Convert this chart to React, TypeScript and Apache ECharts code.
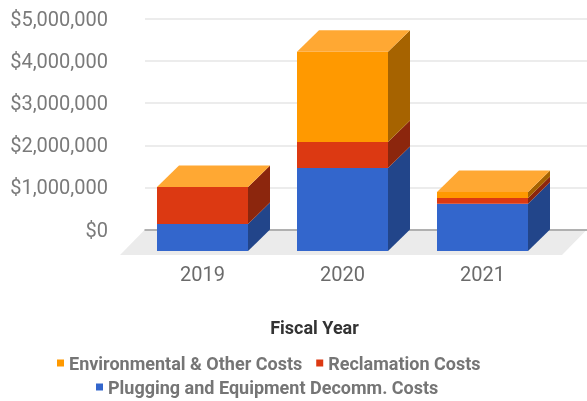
import React, { useEffect, useRef } from "react";
import * as echarts from "echarts";

const categories = ["2019", "2020", "2021"];
const seriesNames = [
  "Plugging and Equipment Decomm. Costs",
  "Reclamation Costs",
  "Environmental & Other Costs",
];
const plugging = [640000, 1970000, 1120000];
const reclamation = [880000, 620000, 140000];
const environmental = [0, 2140000, 140000];
const yTicks = [0, 1000000, 2000000, 3000000, 4000000, 5000000];

const FRONT = ["#3366cc", "#dc3912", "#ff9900"];
const SIDE = ["#22458a", "#8c260d", "#a66300"];
const TOP = ["#5c85d6", "#e56141", "#ffa833"];
const DX = 22;
const DY = 21.5;

export default function App() {
  const ref = useRef<HTMLDivElement>(null);
  useEffect(() => {
    const chart = echarts.init(ref.current!, null, { renderer: "svg" });
    const values = [plugging, reclamation, environmental];
    const stacks: number[][][] = [];
    const running = categories.map(() => 0);
    values.forEach((arr, s) => {
      stacks[s] = arr.map((v, i) => {
        const b = running[i];
        running[i] = b + v;
        return [i, b, b + v];
      });
    });

    const makeSeries = (s: number) => ({
      type: "custom",
      name: seriesNames[s],
      xAxisIndex: 1,
      yAxisIndex: 1,
      z: 5,
      itemStyle: { color: FRONT[s] },
      encode: { x: 0, y: [1, 2] },
      data: stacks[s],
      renderItem: (params: any, api: any) => {
        const x = api.value(0);
        const b = api.value(1);
        const t = api.value(2);
        const p0 = api.coord([x, b]);
        const p1 = api.coord([x, t]);
        const w = api.size([1, 0])[0] * 0.65;
        const l = p0[0] - w / 2;
        const r = p0[0] + w / 2;
        const children: any[] = [];
        if (p0[1] - p1[1] > 0.01) {
          children.push({
            type: "rect",
            shape: { x: l, y: p1[1], width: w, height: p0[1] - p1[1] },
            style: { fill: FRONT[s] },
          });
          children.push({
            type: "polygon",
            shape: {
              points: [
                [r, p0[1]],
                [r, p1[1]],
                [r + DX, p1[1] - DY],
                [r + DX, p0[1] - DY],
              ],
            },
            style: { fill: SIDE[s] },
          });
        }
        if (s === 2) {
          children.push({
            type: "polygon",
            shape: {
              points: [
                [l, p1[1]],
                [r, p1[1]],
                [r + DX, p1[1] - DY],
                [l + DX, p1[1] - DY],
              ],
            },
            style: { fill: TOP[s] },
          });
        }
        return { type: "group", children };
      },
    });

    const fmt = (v: number) => "$" + v.toLocaleString("en-US");
    const legendText = {
      fontFamily: "Roboto",
      fontSize: 18,
      fontWeight: "bold",
      color: "#757575",
    };

    chart.setOption({
      animation: false,
      grid: [
        { left: 145, right: 0, top: 19, bottom: 171.5 },
        { left: 132.5, right: 34.5, top: 40.5, bottom: 150 },
      ],
      xAxis: [
        {
          type: "category",
          gridIndex: 0,
          data: categories,
          axisLine: { show: true, lineStyle: { color: "#9e9e9e", width: 1.5 } },
          axisTick: { show: false },
          axisLabel: { show: false },
          z: 3,
        },
        {
          type: "category",
          gridIndex: 1,
          data: categories,
          axisLine: { show: false },
          axisTick: { show: false },
          axisLabel: {
            margin: 13,
            fontFamily: "Roboto",
            fontSize: 20,
            color: "#6b6b6b",
          },
        },
      ],
      yAxis: [
        {
          type: "value",
          gridIndex: 0,
          min: yTicks[0],
          max: yTicks[yTicks.length - 1],
          interval: 1000000,
          axisLine: { show: false },
          axisTick: { show: false },
          splitLine: { lineStyle: { color: "#e6e6e6", width: 1.5 } },
          axisLabel: {
            margin: 37,
            formatter: fmt,
            fontFamily: "Roboto",
            fontSize: 20,
            color: "#7a7a7a",
          },
        },
        {
          type: "value",
          gridIndex: 1,
          min: yTicks[0],
          max: yTicks[yTicks.length - 1],
          interval: 1000000,
          show: false,
          splitLine: { show: false },
        },
      ],
      legend: [
        {
          data: [seriesNames[2], seriesNames[1]],
          left: 57,
          top: 354,
          padding: 0,
          icon: "rect",
          itemWidth: 7,
          itemHeight: 7,
          itemGap: 14,
          textStyle: legendText,
        },
        {
          data: [seriesNames[0]],
          left: 96,
          top: 378,
          padding: 0,
          icon: "rect",
          itemWidth: 7,
          itemHeight: 7,
          textStyle: legendText,
        },
      ],
      graphic: [
        {
          type: "polygon",
          z: -10,
          silent: true,
          shape: {
            points: [
              [145, 229.5],
              [587, 229.5],
              [562, 255],
              [120, 255],
            ],
          },
          style: { fill: "#ebebeb" },
        },
        {
          type: "text",
          x: 314.5,
          y: 327,
          style: {
            text: "Fiscal Year",
            fontFamily: "Roboto",
            fontSize: 18,
            fontWeight: "bold",
            fill: "#333333",
            align: "center",
            verticalAlign: "middle",
          },
        },
      ],
      series: [makeSeries(0), makeSeries(1), makeSeries(2)],
    });
    return () => chart.dispose();
  }, []);
  return (
    <div
      ref={ref}
      style={{ position: "fixed", left: 0, top: 0, width: 587, height: 401 }}
    />
  );
}
